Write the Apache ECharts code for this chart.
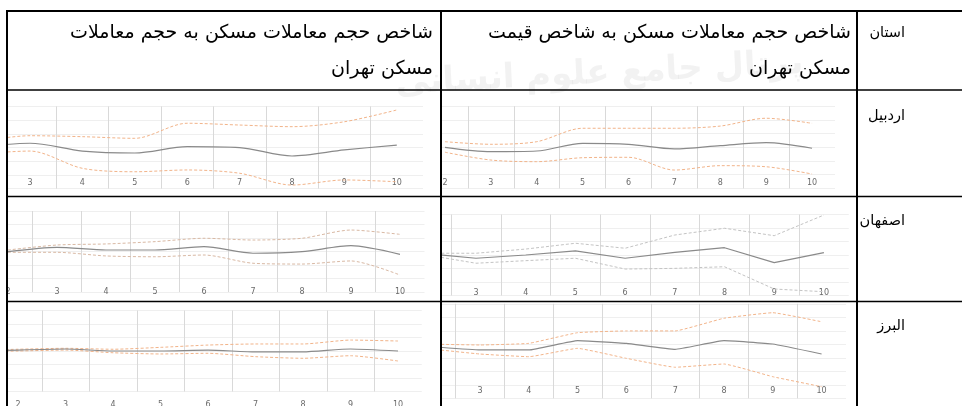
<!DOCTYPE html>
<html>
<head>
<meta charset="utf-8">
<script src="https://cdn.jsdelivr.net/npm/echarts@6/dist/echarts.min.js"></script>
<style>
  html, body { margin: 0; padding: 0; background: #ffffff; }
  #chart { width: 962px; height: 406px; }
</style>
</head>
<body>
<div id="chart"></div>
<script>
// Forecast horizon (periods) and their tick labels
const periods = [1, 2, 3, 4, 5, 6, 7, 8, 9, 10];
const tickLabels = ['1', '2', '3', '4', '5', '6', '7', '8', '9', '10'];

// Table headings
const headProvince = 'استان';
const headPrice = 'شاخص حجم معاملات مسکن به شاخص قیمت\nمسکن تهران';
const headVolume = 'شاخص حجم معاملات مسکن به حجم معاملات\nمسکن تهران';
const provinces = ['اردبیل', 'اصفهان', 'البرز'];

// Impulse responses (central estimate and upper / lower bands), per province
// Response to the Tehran price index
const ardabilPrice   = [null, 0.00, -0.32, -0.27, 0.29, 0.22, -0.12, 0.12, 0.34, -0.07];
const ardabilPriceUp = [null, 0.41, 0.22, 0.41, 1.39, 1.39, 1.39, 1.55, 2.12, 1.75];
const ardabilPriceLo = [null, -0.36, -0.93, -1.05, -0.76, -0.73, -1.66, -1.34, -1.42, -1.95];

const esfahanPrice   = [null, 0.10, -0.24, 0.00, 0.30, -0.24, 0.20, 0.54, -0.57, 0.17];
const esfahanPriceUp = [null, 0.13, 0.13, 0.44, 0.87, 0.50, 1.48, 1.98, 1.43, 2.96];
const esfahanPriceLo = [null, 0.01, -0.61, -0.42, -0.24, -1.04, -0.99, -0.87, -2.52, -2.72];

const alborzPrice   = [null, -0.17, -0.42, -0.42, 0.27, 0.07, -0.37, 0.27, 0.02, -0.72];
const alborzPriceUp = [null, 0.01, -0.05, 0.07, 0.86, 0.99, 0.99, 1.93, 2.34, 1.67];
const alborzPriceLo = [null, -0.35, -0.72, -0.92, -0.30, -1.04, -1.70, -1.46, -2.40, -3.14];

// Response to the Tehran transaction volume index
const ardabilVolume   = [null, 0.02, 0.31, -0.26, -0.40, 0.06, -0.01, -0.62, -0.18, 0.18];
const ardabilVolumeUp = [null, 0.43, 0.86, 0.79, 0.67, 1.77, 1.64, 1.52, 1.88, 2.74];
const ardabilVolumeLo = [null, -0.47, -0.26, -1.52, -1.77, -1.64, -1.88, -2.74, -2.37, -2.50];

const esfahanVolume   = [null, -0.01, 0.31, 0.11, 0.11, 0.36, -0.13, -0.01, 0.43, -0.21];
const esfahanVolumeUp = [null, 0.11, 0.48, 0.56, 0.73, 0.98, 0.85, 0.98, 1.59, 1.27];
const esfahanVolumeLo = [null, -0.06, -0.06, -0.33, -0.39, -0.26, -0.87, -0.93, -0.70, -1.74];

const alborzVolume   = [-0.05, 0.07, 0.15, 0.00, 0.00, 0.07, -0.07, -0.07, 0.15, 0.00];
const alborzVolumeUp = [0.05, 0.13, 0.20, 0.13, 0.27, 0.44, 0.52, 0.52, 0.81, 0.74];
const alborzVolumeLo = [-0.05, 0.00, 0.07, -0.13, -0.22, -0.17, -0.42, -0.54, -0.35, -0.74];

// Panel layout inside the table cells
const panels = [
  { mid: ardabilVolume, up: ardabilVolumeUp, lo: ardabilVolumeLo, left: 7,   right: 423,   top: 106.4, bottom: 188.6, yMin: -3, yMax: 3, xMin: 2.561, margin: -10, smooth: 0.3, band: '#f2b48a' },
  { mid: ardabilPrice,  up: ardabilPriceUp,  lo: ardabilPriceLo,  left: 441, right: 835,   top: 106.2, bottom: 188.4, yMin: -3, yMax: 3, xMin: 1.913, margin: -9,  smooth: 0.3, band: '#f2b48a' },
  { mid: esfahanVolume, up: esfahanVolumeUp, lo: esfahanVolumeLo, left: 7,   right: 424.5, top: 211,   bottom: 292,   yMin: -3, yMax: 3, xMin: 1.98,  margin: -4,  smooth: 0.25, band: '#d9b9a4' },
  { mid: esfahanPrice,  up: esfahanPriceUp,  lo: esfahanPriceLo,  left: 441, right: 848.75, top: 214.5, bottom: 295.5, yMin: -3, yMax: 3, xMin: 2.296, margin: -7,  smooth: 0,   band: '#c4c4c4' },
  { mid: alborzVolume,  up: alborzVolumeUp,  lo: alborzVolumeLo,  left: 7,   right: 421.75, top: 310.5, bottom: 391.5, yMin: -3, yMax: 3, xMin: 1.768, margin: 9,   smooth: 0.2, band: '#f2b48a' },
  { mid: alborzPrice,   up: alborzPriceUp,   lo: alborzPriceLo,   left: 441, right: 846,   top: 303.8, bottom: 398.3, yMin: -4, yMax: 3, xMin: 2.201, margin: -11, smooth: 0.1, band: '#f2b48a' }
];

const halfSteps = periods.slice(0, 9).map(p => p + 0.5);

function pairs(vals) {
  return periods.map((p, i) => [p, vals[i]]).filter(d => d[1] !== null);
}

const grid = [], xAxis = [], yAxis = [], series = [];
panels.forEach((pn, i) => {
  grid.push({
    left: pn.left, top: pn.top, width: pn.right - pn.left, height: pn.bottom - pn.top,
    containLabel: false, outerBoundsMode: 'none'
  });
  xAxis.push({
    type: 'value', gridIndex: i, min: pn.xMin, max: 10.5,
    axisLine: { show: false },
    axisTick: { show: false, customValues: halfSteps },
    splitLine: { show: true, lineStyle: { color: '#d9d9d9', width: 1 } },
    axisLabel: {
      customValues: periods, margin: pn.margin,
      formatter: v => tickLabels[periods.indexOf(v)],
      fontSize: 8, fontFamily: 'DejaVu Sans', color: '#6a6a6a'
    }
  });
  yAxis.push({
    type: 'value', gridIndex: i, min: pn.yMin, max: pn.yMax, interval: 1,
    axisLine: { show: false }, axisTick: { show: false }, axisLabel: { show: false },
    splitLine: { show: true, lineStyle: { color: '#efefef', width: 1 } }
  });
  [['up', pn.up], ['lo', pn.lo]].forEach(([name, vals]) => {
    series.push({
      type: 'line', name: name, xAxisIndex: i, yAxisIndex: i, data: pairs(vals),
      showSymbol: false, smooth: pn.smooth, clip: true, silent: true,
      lineStyle: { color: pn.band, width: 1, type: [3, 2] }, z: 3
    });
  });
  series.push({
    type: 'line', name: 'mid', xAxisIndex: i, yAxisIndex: i, data: pairs(pn.mid),
    showSymbol: false, smooth: pn.smooth, clip: true, silent: true,
    lineStyle: { color: '#8a8a8a', width: 1.2 }, z: 4
  });
});

// Table rules and cell text
const hLine = (y, w) => ({ type: 'line', z: 100, shape: { x1: 6, y1: y, x2: 962, y2: y }, style: { stroke: '#000', lineWidth: w } });
const vLine = (x, w) => ({ type: 'line', z: 100, shape: { x1: x, y1: 10, x2: x, y2: 406 }, style: { stroke: '#000', lineWidth: w } });
const headText = (text, x) => ({
  type: 'text', z: 101,
  style: { text: text, x: x, y: 15, align: 'right', verticalAlign: 'top', fill: '#000',
           fontSize: 19, fontFamily: 'DejaVu Sans', lineHeight: 36 }
});
const rowText = (text, y) => ({
  type: 'text', z: 101,
  style: { text: text, x: 905, y: y, align: 'right', verticalAlign: 'middle', fill: '#000',
           fontSize: 14.5, fontFamily: 'DejaVu Sans' }
});

const graphic = [
  { type: 'text', z: 1, rotation: 0.05,
    style: { text: 'پرتال جامع علوم انسانی', x: 595, y: 104, align: 'center', verticalAlign: 'middle',
             fontSize: 34, fontFamily: 'DejaVu Sans', fontWeight: 'bold', fill: 'rgba(150,150,150,0.12)' } },
  hLine(11, 2), hLine(90, 1.5), hLine(196.5, 1.5), hLine(301.5, 1.5),
  vLine(7, 2), vLine(441, 2), vLine(857, 2),
  headText(headVolume, 433),
  headText(headPrice, 851),
  rowText(headProvince, 33),
  rowText(provinces[0], 116),
  rowText(provinces[1], 221),
  rowText(provinces[2], 326)
];

const chart = echarts.init(document.getElementById('chart'), null, { renderer: 'canvas' });
chart.setOption({
  animation: false,
  backgroundColor: '#ffffff',
  grid: grid, xAxis: xAxis, yAxis: yAxis, series: series,
  graphic: graphic
});
</script>
</body>
</html>
